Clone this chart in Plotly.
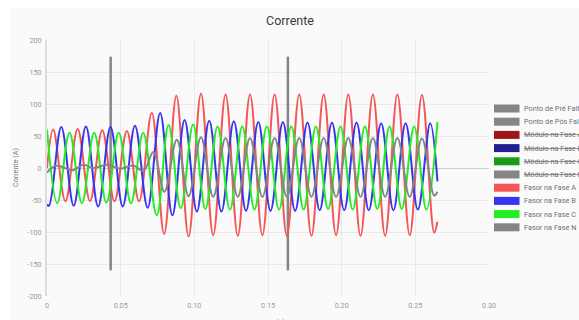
import plotly.graph_objects as go

# ---------------- data ----------------
red_t = [0.0000, 0.0042, 0.0125, 0.0208, 0.0292, 0.0375, 0.0458, 0.0542, 0.0625, 0.0711,
         0.0795, 0.0878, 0.0961, 0.1045, 0.1128, 0.1212, 0.1295, 0.1378, 0.1462, 0.1545,
         0.1628, 0.1712, 0.1795, 0.1878, 0.1962, 0.2045, 0.2128, 0.2212, 0.2295, 0.2378,
         0.2462, 0.2545, 0.2628, 0.2650]
red_v = [0, 60, -52, 61, -52, 59, -52, 58, -52, 86,
         -103, 113, -107, 116, -105, 115, -106, 115, -105, 115,
         -106, 115, -106, 115, -105, 115, -106, 115, -106, 115,
         -105, 114, -101, -84]

blue_t = [0.0000, 0.0014, 0.0097, 0.0181, 0.0264, 0.0347, 0.0431, 0.0514, 0.0597, 0.0683,
          0.0768, 0.0851, 0.0934, 0.1017, 0.1101, 0.1184, 0.1268, 0.1351, 0.1434, 0.1517,
          0.1601, 0.1684, 0.1768, 0.1851, 0.1934, 0.2017, 0.2101, 0.2184, 0.2268, 0.2351,
          0.2434, 0.2517, 0.2601, 0.2650]
blue_v = [-57, -59, 64, -59, 65, -60, 64, -60, 66, -62,
          86, -74, 75, -68, 74, -68, 73, -67, 72, -67,
          72, -67, 71, -66, 71, -66, 71, -66, 70, -66,
          70, -65, 70, -21]

green_t = [0.0000, 0.0070, 0.0153, 0.0237, 0.0320, 0.0403, 0.0487, 0.0570, 0.0653, 0.0745,
           0.0825, 0.0908, 0.0992, 0.1075, 0.1158, 0.1242, 0.1325, 0.1408, 0.1492, 0.1575,
           0.1658, 0.1742, 0.1825, 0.1908, 0.1992, 0.2075, 0.2158, 0.2242, 0.2325, 0.2408,
           0.2492, 0.2575, 0.2650]
green_v = [60, -55, 55, -55, 55, -54, 55, -55, 55, -74,
           67, -63, 68, -64, 65, -65, 65, -65, 65, -65,
           65, -65, 65, -64, 65, -65, 65, -64, 65, -64,
           65, -65, 72]

gray_t = [0.0000, 0.0055, 0.0100, 0.0168, 0.0248, 0.0313, 0.0406, 0.0496, 0.0586, 0.0654,
          0.0722, 0.0797, 0.0881, 0.0961, 0.1045, 0.1128, 0.1212, 0.1295, 0.1378, 0.1462,
          0.1545, 0.1628, 0.1712, 0.1795, 0.1878, 0.1962, 0.2045, 0.2128, 0.2212, 0.2295,
          0.2378, 0.2462, 0.2545, 0.2628, 0.2650]
gray_v = [-7, 3, 2, -4, 5, 0, 5, -1, 4, -5,
          25, -37, 44, -44, 48, -45, 47, -45, 47, -45,
          47, -45, 47, -45, 47, -45, 47, -45, 47, -45,
          47, -45, 46, -43, -37]

marker_t = [0.0432, 0.1635]          # Ponto de Pré Falta, Ponto de Pós Falta
marker_y = [-160, 174]

legend_labels = ["Ponto de Pré Falta", "Ponto de Pós Falta",
                 "Módulo na Fase A", "Módulo na Fase B", "Módulo na Fase C", "Módulo na Fase N",
                 "Fasor na Fase A", "Fasor na Fase B", "Fasor na Fase C", "Fasor na Fase N"]
legend_hidden = [False, False, True, True, True, True, False, False, False, False]

x_tickvals = [0, 0.05, 0.10, 0.15, 0.20, 0.25, 0.30]
x_ticktext = ["0", "0.05", "0.10", "0.15", "0.20", "0.25", "0.30"]
y_tickvals = [200, 150, 100, 50, 0, -50, -100, -150, -200]
y_ticktext = ["200", "150", "100", "50", "0", "-50", "-100", "-150", "-200"]

# ---------------- styling ----------------
C_MARK = "#858585"
C_A, C_B, C_C, C_N = "#f55555", "#3535f0", "#22ee22", "#858585"
legend_colors = [C_MARK, C_MARK, "#a01515", "#1f1f8f", "#169c16", "#858585",
                 C_A, C_B, C_C, C_N]

W, H = 579, 320
ML, MT = 47, 40
PW, PH = 442, 256
MR, MB = W - ML - PW, H - MT - PH
FONT = "Roboto"


def px(xs):  # screen x -> paper
    return (xs - ML) / PW


def py(ys):  # screen y -> paper
    return (MT + PH - ys) / PH


fig = go.Figure()

for tt in marker_t:
    fig.add_trace(go.Scatter(x=[tt, tt], y=marker_y, mode="lines",
                             line=dict(color=C_MARK, width=2.5),
                             showlegend=False, hoverinfo="skip"))

for name, t, v, col in [("Fasor na Fase A", red_t, red_v, C_A),
                        ("Fasor na Fase B", blue_t, blue_v, C_B),
                        ("Fasor na Fase C", green_t, green_v, C_C),
                        ("Fasor na Fase N", gray_t, gray_v, C_N)]:
    fig.add_trace(go.Scatter(x=t, y=v, mode="lines", name=name,
                             line=dict(color=col, width=2, shape="spline", smoothing=1.05),
                             showlegend=False))

# white page margin around the chart container (left and top)
shapes = [
    dict(type="rect", xref="paper", yref="paper", layer="below",
         x0=px(0), x1=px(9), y0=py(H), y1=py(0), fillcolor="white", line=dict(width=0)),
    dict(type="rect", xref="paper", yref="paper", layer="below",
         x0=px(0), x1=px(W), y0=py(8), y1=py(0), fillcolor="white", line=dict(width=0)),
]
annotations = []
for i, (lab, hid, col) in enumerate(zip(legend_labels, legend_hidden, legend_colors)):
    cy = 108.5 + 13.2 * i
    shapes.append(dict(type="rect", xref="paper", yref="paper",
                       x0=px(494), x1=px(519.5), y0=py(cy + 4), y1=py(cy - 4),
                       fillcolor=col, line=dict(width=0)))
    annotations.append(dict(xref="paper", yref="paper", x=px(522), y=py(cy),
                            xanchor="left", yanchor="middle", showarrow=False,
                            text=("<s>%s</s>" % lab) if hid else lab,
                            font=dict(family=FONT, size=7.3, color="#707070")))

annotations.append(dict(xref="paper", yref="paper", x=px(15.5), y=py(167.5),
                        xanchor="center", yanchor="middle", showarrow=False, textangle=-90,
                        text="Corrente (A)", font=dict(family=FONT, size=7.2, color="#808080")))
annotations.append(dict(xref="paper", yref="paper", x=px(268.5), y=py(316),
                        xanchor="center", yanchor="top", showarrow=False,
                        text="Tempo (s)", font=dict(family=FONT, size=7.2, color="#808080")))

fig.update_layout(
    width=W, height=H,
    margin=dict(l=ML, r=MR, t=MT, b=MB, autoexpand=False),
    paper_bgcolor="#fafafa", plot_bgcolor="#fafafa",
    title=dict(text="Corrente", x=290 / W, xanchor="center", xref="container",
               y=1 - 21 / H, yanchor="middle", yref="container",
               font=dict(family=FONT, size=12.5, color="#3a3a3a")),
    showlegend=False,
    shapes=shapes, annotations=annotations,
    font=dict(family=FONT),
)
fig.update_xaxes(range=[0, 0.30], tickvals=x_tickvals, ticktext=x_ticktext,
                 showgrid=True, gridcolor="#e9e9e9", gridwidth=1, zeroline=False,
                 showline=False, ticks="outside", ticklen=2, tickcolor="rgba(0,0,0,0)",
                 tickfont=dict(family=FONT, size=7.2, color="#999"))
fig.update_yaxes(range=[-200, 200], tickvals=y_tickvals, ticktext=y_ticktext,
                 showgrid=True, gridcolor="#e9e9e9", gridwidth=1,
                 zeroline=True, zerolinecolor="#cccccc", zerolinewidth=1,
                 showline=True, linecolor="#dddddd", linewidth=2,
                 ticks="outside", ticklen=2, tickcolor="rgba(0,0,0,0)",
                 tickfont=dict(family=FONT, size=7.2, color="#999"))

fig.write_html("out.html",
               config={"displayModeBar": False},
               post_script="document.body.style.margin='0';"
                           "document.documentElement.style.overflow='hidden';"
                           "document.body.style.overflow='hidden';")
